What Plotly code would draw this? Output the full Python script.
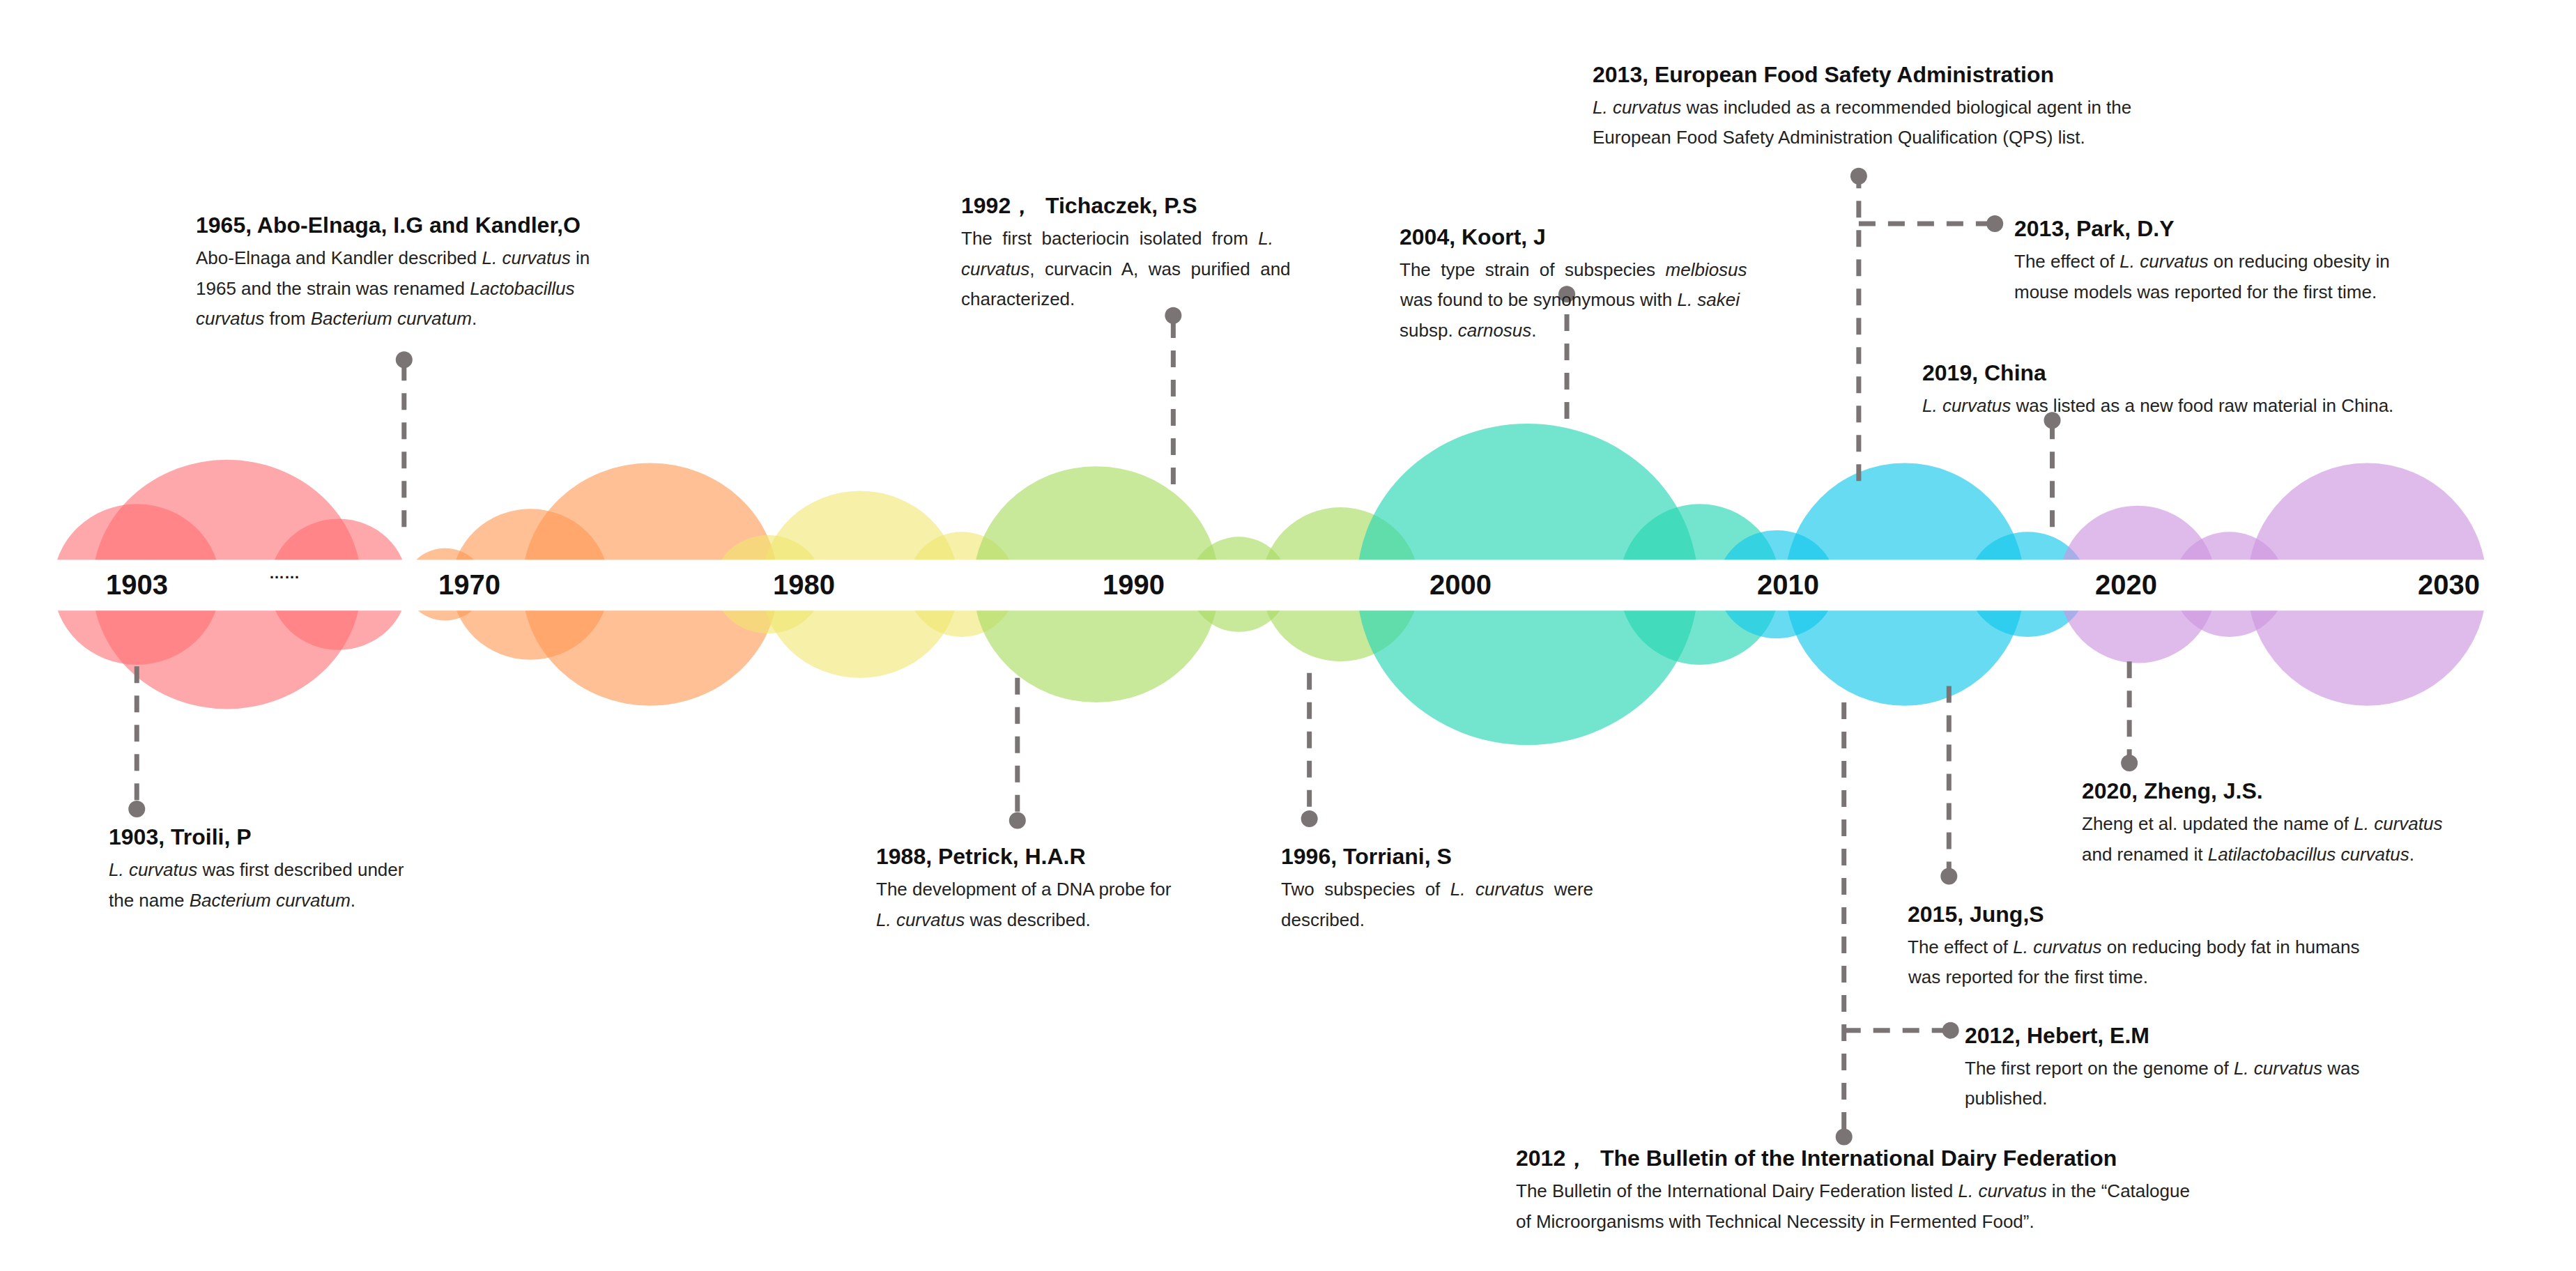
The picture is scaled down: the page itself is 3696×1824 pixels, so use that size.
import plotly.graph_objects as go

S = 2.353  # display-to-pixel scale
W, H = 3696, 1824
AXIS_Y = 353

tick_labels = ["1903", "1970", "1980", "1990", "2000", "2010", "2020", "2030"]
tick_x = [80, 283, 487, 688, 887, 1087, 1293, 1490]

# bubbles: (center x, rx, ry, group)
bubble_cx = [80, 135, 203, 268, 320, 393, 465, 521, 583, 665, 752, 814, 928, 1033, 1080, 1158, 1233, 1300, 1356, 1440]
bubble_rx = [51, 82, 42, 24, 48, 78, 33, 60, 33, 75, 30, 48, 104, 49, 36, 73, 36, 48, 34, 73]
bubble_ry = [49, 76, 40, 22, 46, 74, 30, 57, 32, 72, 29, 47, 98, 49, 33, 74, 32, 48, 32, 74]
bubble_grp = [0, 0, 0, 1, 1, 1, 2, 2, 2, 3, 3, 3, 4, 4, 5, 5, 5, 6, 6, 6]
group_colors = ["rgba(255,110,115,0.6)", "rgba(255,150,80,0.6)", "rgba(240,230,110,0.6)",
                "rgba(170,220,100,0.65)", "rgba(40,215,180,0.65)", "rgba(20,200,235,0.65)",
                "rgba(205,150,225,0.65)"]

# events: line x, line y0, y1 (dot at y1), text x, title y, title, body lines
ev_x = [80, 243, 617, 712, 795, 952, 1130, 1248, 1295, 1185, 1121]
ev_y0 = [403, 318, 410, 292, 407, 252, 290, 318, 400, 415, 425]
ev_y1 = [490, 216, 497, 189, 496, 176, 104, 253, 462, 531, 690]
ev_tx = [62, 115, 530, 582, 777, 849, 967, 1168, 1265, 1159, 920]
ev_ty = [507, 134, 519, 122, 519, 141, 42, 224, 479, 554, 703]
ev_title = ["1903, Troili, P", "1965, Abo-Elnaga, I.G and Kandler,O", "1988, Petrick, H.A.R",
            "1992，  Tichaczek, P.S", "1996, Torriani, S", "2004, Koort, J",
            "2013, European Food Safety Administration", "2019, China", "2020, Zheng, J.S.",
            "2015, Jung,S", "2012，  The Bulletin of the International Dairy Federation"]
ev_body = [
    ["<i>L. curvatus</i> was first described under", "the name <i>Bacterium curvatum</i>."],
    ["Abo-Elnaga and Kandler described <i>L. curvatus</i> in", "1965 and the strain was renamed <i>Lactobacillus</i>",
     "<i>curvatus</i> from <i>Bacterium curvatum</i>."],
    ["The development of a DNA probe for", "<i>L. curvatus</i> was described."],
    ["The  first  bacteriocin  isolated  from  <i>L.</i>", "<i>curvatus</i>,  curvacin  A,  was  purified  and",
     "characterized."],
    ["Two  subspecies  of  <i>L.  curvatus</i>  were", "described."],
    ["The  type  strain  of  subspecies  <i>melbiosus</i>", "was found to be synonymous with <i>L. sakei</i>",
     "subsp. <i>carnosus</i>."],
    ["<i>L. curvatus</i> was included as a recommended biological agent in the",
     "European Food Safety Administration Qualification (QPS) list."],
    ["<i>L. curvatus</i> was listed as a new food raw material in China."],
    ["Zheng et al. updated the name of <i>L. curvatus</i>", "and renamed it <i>Latilactobacillus curvatus</i>."],
    ["The effect of <i>L. curvatus</i> on reducing body fat in humans", "was reported for the first time."],
    ["The Bulletin of the International Dairy Federation listed <i>L. curvatus</i> in the “Catalogue",
     "of Microorganisms with Technical Necessity in Fermented Food”."],
]

# branch events: from main line x at y, to dot x
br_from = [1130, 1121]
br_y = [133, 625]
br_to = [1213, 1186]
br_tx = [1224, 1194]
br_title = ["2013, Park, D.Y", "2012, Hebert, E.M"]
br_body = [["The effect of <i>L. curvatus</i> on reducing obesity in", "mouse models was reported for the first time."],
           ["The first report on the genome of <i>L. curvatus</i> was", "published."]]

GRAY = "#7a7474"
FONT = "Liberation Sans, Arial"
fig = go.Figure()
shapes = []
for cx, rx, ry, g in zip(bubble_cx, bubble_rx, bubble_ry, bubble_grp):
    shapes.append(dict(type="circle", xref="x", yref="y", x0=(cx - rx) * S, x1=(cx + rx) * S,
                       y0=(AXIS_Y - ry) * S, y1=(AXIS_Y + ry) * S, fillcolor=group_colors[g],
                       line=dict(width=0), layer="below"))
shapes.append(dict(type="rect", xref="x", yref="y", x0=17 * S, x1=1515 * S, y0=338 * S, y1=369 * S,
                   fillcolor="white", line=dict(width=0), layer="below"))
fig.update_layout(shapes=shapes)

def dline(xs, ys):
    fig.add_trace(go.Scatter(x=[v * S for v in xs], y=[v * S for v in ys], mode="lines",
                             line=dict(color=GRAY, width=7, dash="24px,18px"), hoverinfo="skip"))

def dot(x, y):
    fig.add_trace(go.Scatter(x=[x * S], y=[y * S], mode="markers",
                             marker=dict(color=GRAY, size=24), hoverinfo="skip"))

anns = []
def text(x, y, t, size, bold=False):
    anns.append(dict(x=x * S, y=y * S, xref="x", yref="y", text=("<b>%s</b>" % t) if bold else t,
                     showarrow=False, xanchor="left", yanchor="middle",
                     font=dict(family=FONT, size=size, color="#111" if bold else "#222")))

for i in range(len(ev_x)):
    dline([ev_x[i], ev_x[i]], [ev_y0[i], ev_y1[i]])
    dot(ev_x[i], ev_y1[i])
    text(ev_tx[i], ev_ty[i], ev_title[i], 32, True)
    for j, ln in enumerate(ev_body[i]):
        text(ev_tx[i], ev_ty[i] + 20 + 18.5 * j, ln, 26)
for i in range(len(br_from)):
    dline([br_from[i], br_to[i]], [br_y[i], br_y[i]])
    dot(br_to[i], br_y[i])
    text(br_tx[i], br_y[i] + 3, br_title[i], 32, True)
    for j, ln in enumerate(br_body[i]):
        text(br_tx[i], br_y[i] + 23 + 18.5 * j, ln, 26)

for t, x in zip(tick_labels, tick_x):
    anns.append(dict(x=x * S, y=AXIS_Y * S, xref="x", yref="y", text="<b>%s</b>" % t, showarrow=False,
                     font=dict(family=FONT, size=40, color="#111")))
anns.append(dict(x=170 * S, y=346 * S, xref="x", yref="y", text="<b>……</b>", showarrow=False,
                 font=dict(family=FONT, size=22, color="#111")))

fig.update_layout(annotations=anns, width=W, height=H, margin=dict(l=0, r=0, t=0, b=0),
                  paper_bgcolor="white", plot_bgcolor="white", showlegend=False,
                  xaxis=dict(range=[0, W], visible=False, fixedrange=True),
                  yaxis=dict(range=[H, 0], visible=False, fixedrange=True))
fig.write_html("out.html")
